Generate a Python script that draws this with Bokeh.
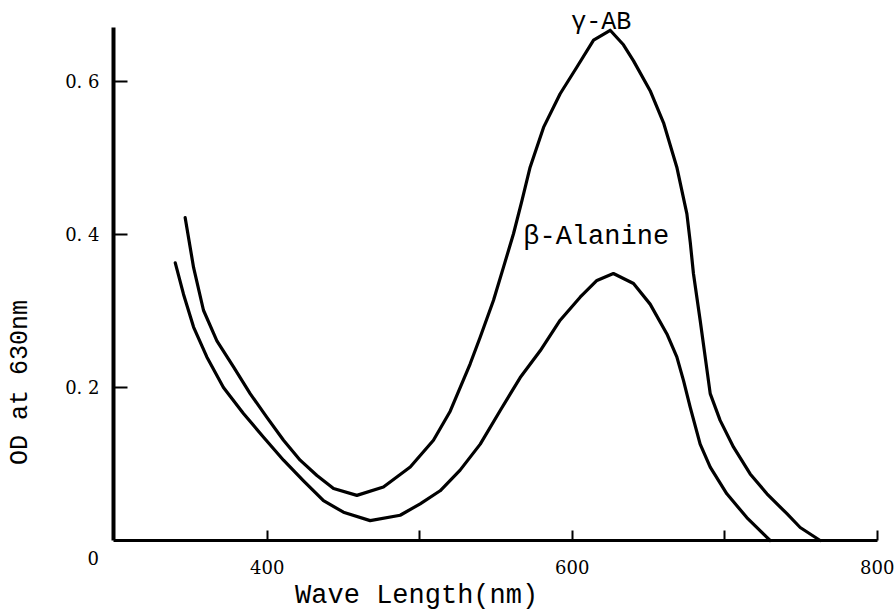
import math
from bokeh.plotting import figure
from bokeh.models import Range1d, FixedTicker, Label
from bokeh.embed import file_html
from bokeh.resources import INLINE

# gamma-AB curve (wavelength nm, OD)
gaba_wl = [346.2, 351.7, 358.2, 367.0, 377.9, 388.8, 399.8, 410.7, 421.6, 432.6,
           443.5, 458.8, 476.2, 493.8, 509.0, 520.0, 533.1, 539.7, 548.4, 554.9,
           561.5, 567.0, 572.4, 581.2, 592.1, 603.1, 614.0, 624.9, 633.6, 640.2,
           651.1, 659.9, 668.6, 675.2, 677.4, 679.5, 683.9, 690.5, 697.0, 705.8,
           716.7, 727.7, 740.8, 749.5, 762.6]
gaba_od = [0.422, 0.357, 0.301, 0.261, 0.227, 0.192, 0.161, 0.131, 0.105, 0.085,
           0.068, 0.059, 0.070, 0.096, 0.131, 0.169, 0.231, 0.266, 0.314, 0.357,
           0.401, 0.444, 0.488, 0.540, 0.584, 0.619, 0.654, 0.667, 0.648, 0.627,
           0.588, 0.546, 0.488, 0.427, 0.390, 0.349, 0.288, 0.192, 0.157, 0.122,
           0.087, 0.061, 0.035, 0.017, 0.000]

# beta-Alanine curve
ala_wl = [339.7, 345.1, 351.7, 360.4, 371.3, 384.4, 397.6, 410.7, 423.8, 436.9,
          450.0, 467.5, 487.2, 500.3, 513.4, 526.5, 539.7, 552.8, 565.9, 579.0,
          592.1, 605.2, 616.2, 627.0, 640.2, 651.1, 662.1, 668.6, 673.0, 677.4,
          683.9, 690.5, 701.4, 714.5, 727.7, 729.8]
ala_od = [0.363, 0.322, 0.279, 0.240, 0.200, 0.166, 0.135, 0.105, 0.078, 0.052,
          0.037, 0.026, 0.033, 0.048, 0.065, 0.092, 0.126, 0.170, 0.213, 0.248,
          0.288, 0.318, 0.340, 0.349, 0.336, 0.309, 0.270, 0.240, 0.209, 0.174,
          0.126, 0.096, 0.061, 0.030, 0.004, 0.000]

x_ticks = [400, 500, 600, 700, 800]
x_tick_labels = ["400", "", "600", "", "800"]
y_ticks = [0.2, 0.4, 0.6]
y_tick_labels = ["0. 2", "0. 4", "0. 6"]

X_AXIS = (299.2, 800.5)   # drawn extent of the wavelength axis
Y_AXIS = (0.0, 0.671)     # drawn extent of the OD axis

MONO = "Liberation Mono"
SERIF = "DejaVu Serif"

# frame covers the whole canvas; axes are pinned inside it
p = figure(width=895, height=610, output_backend="svg", toolbar_location=None,
           x_range=Range1d(225.1, 812.0), y_range=Range1d(-0.0915, 0.7059),
           min_border=0, min_border_left=0, min_border_right=0,
           min_border_top=0, min_border_bottom=0)
p.title.visible = False
p.grid.visible = False
p.outline_line_color = None
p.background_fill_color = "white"
p.border_fill_color = "white"

p.xaxis.fixed_location = Y_AXIS[0]
p.yaxis.fixed_location = X_AXIS[0]
p.xaxis.bounds = X_AXIS
p.yaxis.bounds = Y_AXIS
p.xaxis.ticker = FixedTicker(ticks=x_ticks)
p.xaxis.major_label_overrides = dict(zip(x_ticks, x_tick_labels))
p.yaxis.ticker = FixedTicker(ticks=y_ticks)
p.yaxis.major_label_overrides = dict(zip(y_ticks, y_tick_labels))
for ax in (p.xaxis, p.yaxis):
    ax.axis_line_color = "black"
    ax.major_tick_line_color = "black"
    ax.major_tick_line_width = 2
    ax.major_tick_out = 0
    ax.minor_tick_line_color = None
    ax.major_label_text_font = SERIF
    ax.major_label_text_font_size = "18px"
    ax.major_label_text_color = "black"
p.yaxis.axis_line_width = 4
p.xaxis.axis_line_width = 3
p.yaxis.major_tick_in = 14
p.xaxis.major_tick_in = 10
p.yaxis.major_label_standoff = 14
p.xaxis.major_label_standoff = 19

p.line(gaba_wl, gaba_od, line_color="black", line_width=3.2, line_join="round", line_cap="round")
p.line(ala_wl, ala_od, line_color="black", line_width=3.2, line_join="round", line_cap="round")

p.add_layout(Label(x=619, y=0.677, text="γ-AB", text_font=MONO, text_font_size="25px",
                   text_align="center", text_baseline="alphabetic", text_color="black"))
p.add_layout(Label(x=567.9, y=0.397, text="β-Alanine", text_font=MONO, text_font_size="27px",
                   text_align="left", text_baseline="alphabetic", text_color="black"))
p.add_layout(Label(x=418.3, y=-0.0725, text="Wave Length(nm)", text_font=MONO,
                   text_font_size="27px", text_align="left", text_baseline="alphabetic",
                   text_color="black"))
p.add_layout(Label(x=238, y=0.2065, text="OD at 630nm", text_font=MONO,
                   text_font_size="25px", text_align="center", text_baseline="middle",
                   angle=math.pi / 2, text_color="black"))
p.add_layout(Label(x=285.9, y=-0.0235, text="0", text_font=SERIF, text_font_size="18px",
                   text_align="center", text_baseline="middle", text_color="black"))

open("out.html", "w").write(file_html(p, INLINE))
